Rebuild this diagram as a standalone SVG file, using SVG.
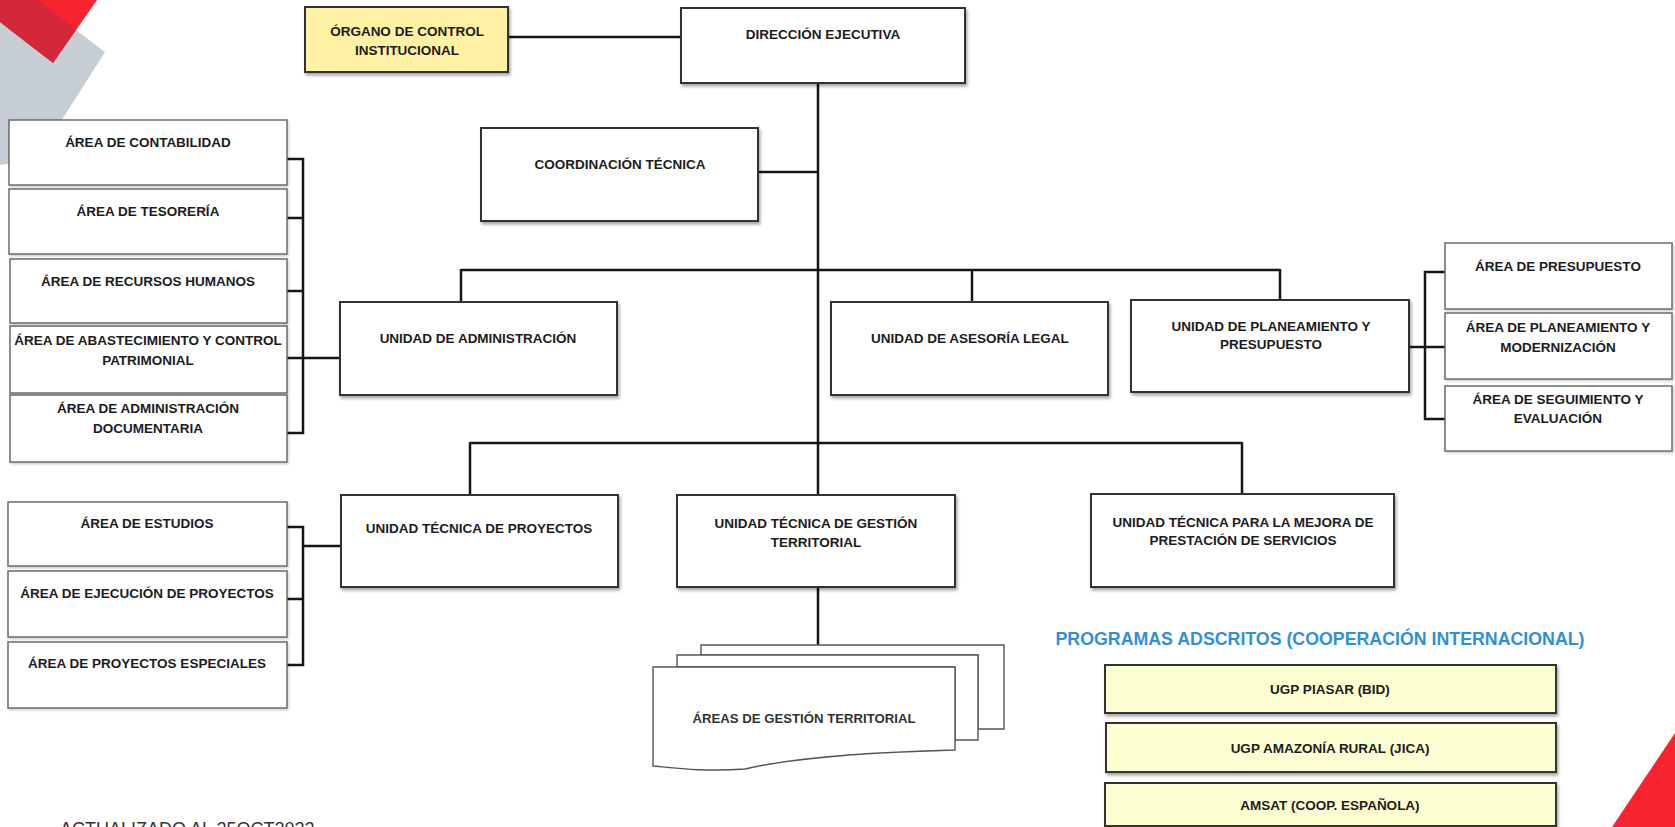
<svg xmlns="http://www.w3.org/2000/svg" width="1675" height="827" viewBox="0 0 1675 827">
<defs>
<filter id="sh" x="-5%" y="-10%" width="115%" height="130%">
<feDropShadow dx="1.5" dy="2.5" stdDeviation="1.5" flood-color="#000" flood-opacity="0.35"/>
</filter>
<filter id="sh2" x="-5%" y="-10%" width="115%" height="130%">
<feDropShadow dx="1" dy="1.5" stdDeviation="1" flood-color="#000" flood-opacity="0.2"/>
</filter>
<style>
.u{fill:#fff;stroke:#333;stroke-width:2;filter:url(#sh)}
.a{fill:#fff;stroke:#6b6b6b;stroke-width:1.5;filter:url(#sh2)}
.y{fill:#fef1a4;stroke:#333;stroke-width:2;filter:url(#sh)}
.p{fill:#fefed3;stroke:#333;stroke-width:2;filter:url(#sh)}
.d{fill:#fff;stroke:#555;stroke-width:1.4}
text{font-family:"Liberation Sans",Arial,sans-serif;font-size:13.5px;font-weight:bold;fill:#1c1c1c;text-anchor:middle}
.r{font-weight:normal;fill:#2a2a2a}
.c line,.c path{stroke:#151515;stroke-width:2.5;fill:none}
</style>
</defs>
<rect width="1675" height="827" fill="#fff"/>
<g id="decor">
<polygon points="0,0 36,0 105,52 63,118 35,160 0,165" fill="#c7cdd5"/>
<polygon points="0,0 97,0 53,63 0,22" fill="#f7232f"/>
<polygon points="0,0 38,0 76,30 53,63 0,22" fill="#d2283a"/>
<polygon points="1675,733 1675,827 1612,827" fill="#f7232f"/>
</g>
<g class="c" id="connectors">
<line x1="508" y1="37" x2="681" y2="37"/>
<line x1="818" y1="83" x2="818" y2="495"/>
<line x1="758" y1="172" x2="818" y2="172"/>
<line x1="461" y1="270" x2="1280" y2="270"/>
<line x1="461" y1="269" x2="461" y2="302"/>
<line x1="972" y1="269" x2="972" y2="302"/>
<line x1="1280" y1="269" x2="1280" y2="301"/>
<line x1="470" y1="443" x2="1242" y2="443"/>
<line x1="470" y1="442" x2="470" y2="495"/>
<line x1="1242" y1="442" x2="1242" y2="494"/>
<path d="M287,159 H303 V433 H287 M287,218 H303 M287,291 H303 M287,358 H340"/>
<path d="M1445,272 H1425 V419 H1445 M1409,347 H1445"/>
<path d="M287,527 H303 V665 H287 M287,599 H303 M303,546 H341"/>
<line x1="818" y1="587" x2="818" y2="645"/>
</g>
<g id="organo"><rect class="y" x="305" y="7" width="203" height="65"/><text x="407" y="36">ÓRGANO DE CONTROL</text><text x="407" y="55">INSTITUCIONAL</text></g>
<g id="direccion"><rect class="u" x="681" y="8" width="284" height="75"/><text x="823" y="39">DIRECCIÓN  EJECUTIVA</text></g>
<g id="coordinacion"><rect class="u" x="481" y="128" width="277" height="93"/><text x="620" y="169">COORDINACIÓN TÉCNICA</text></g>
<g id="u-admin"><rect class="u" x="340" y="302" width="277" height="93"/><text x="478" y="343">UNIDAD DE ADMINISTRACIÓN</text></g>
<g id="u-legal"><rect class="u" x="831" y="302" width="277" height="93"/><text x="970" y="343">UNIDAD DE ASESORÍA  LEGAL</text></g>
<g id="u-plan"><rect class="u" x="1131" y="300" width="278" height="92"/><text x="1271" y="331">UNIDAD DE PLANEAMIENTO Y</text><text x="1271" y="349">PRESUPUESTO</text></g>
<g id="a-contab"><rect class="a" x="9" y="120" width="278" height="65"/><text x="148" y="147">ÁREA DE CONTABILIDAD</text></g>
<g id="a-teso"><rect class="a" x="9" y="189" width="278" height="65"/><text x="148" y="216">ÁREA DE TESORERÍA</text></g>
<g id="a-rrhh"><rect class="a" x="10" y="259" width="277" height="64"/><text x="148" y="286">ÁREA DE RECURSOS HUMANOS</text></g>
<g id="a-abast"><rect class="a" x="10" y="326" width="277" height="67"/><text x="148" y="345">ÁREA DE ABASTECIMIENTO  Y CONTROL</text><text x="148" y="365">PATRIMONIAL</text></g>
<g id="a-doc"><rect class="a" x="10" y="395" width="277" height="67"/><text x="148" y="413">ÁREA DE ADMINISTRACIÓN</text><text x="148" y="433">DOCUMENTARIA</text></g>
<g id="a-presu"><rect class="a" x="1445" y="243" width="227" height="66"/><text x="1558" y="271">ÁREA DE PRESUPUESTO</text></g>
<g id="a-planmod"><rect class="a" x="1445" y="313" width="227" height="66"/><text x="1558" y="332">ÁREA DE PLANEAMIENTO Y</text><text x="1558" y="352">MODERNIZACIÓN</text></g>
<g id="a-seg"><rect class="a" x="1445" y="386" width="227" height="65"/><text x="1558" y="404">ÁREA DE SEGUIMIENTO  Y</text><text x="1558" y="423">EVALUACIÓN</text></g>
<g id="u-proy"><rect class="u" x="341" y="495" width="277" height="92"/><text x="479" y="533">UNIDAD TÉCNICA DE PROYECTOS</text></g>
<g id="u-gest"><rect class="u" x="677" y="495" width="278" height="92"/><text x="816" y="528">UNIDAD TÉCNICA DE GESTIÓN</text><text x="816" y="547">TERRITORIAL</text></g>
<g id="u-mejora"><rect class="u" x="1091" y="494" width="303" height="93"/><text x="1243" y="527">UNIDAD TÉCNICA PARA LA MEJORA  DE</text><text x="1243" y="545">PRESTACIÓN  DE SERVICIOS</text></g>
<g id="a-estudios"><rect class="a" x="8" y="502" width="279" height="64"/><text x="147" y="528">ÁREA DE ESTUDIOS</text></g>
<g id="a-ejec"><rect class="a" x="8" y="571" width="279" height="66"/><text x="147" y="598">ÁREA DE EJECUCIÓN  DE PROYECTOS</text></g>
<g id="a-esp"><rect class="a" x="8" y="642" width="279" height="66"/><text x="147" y="668">ÁREA DE PROYECTOS ESPECIALES</text></g>
<g id="areas-gestion">
<path class="d" d="M701,645 H1004 V729 H978 V655 H701 Z"/>
<path class="d" d="M677,655 H978 V740 H955 V667 H677 Z"/>
<path class="d" d="M653,667 H955 V750 C880,752 800,756 745,769 C705,772 675,768 653,766 Z"/>
<text x="804" y="723" textLength="223" lengthAdjust="spacingAndGlyphs" style="font-size:13px;fill:#333">ÁREAS DE GESTIÓN TERRITORIAL</text>
</g>
<g id="programas">
<text x="1320" y="645" textLength="529" lengthAdjust="spacingAndGlyphs" style="font-size:18px;fill:#2f8fdd">PROGRAMAS ADSCRITOS (COOPERACIÓN INTERNACIONAL)</text>
</g>
<g id="p-piasar"><rect class="p" x="1105" y="665" width="451" height="48"/><text x="1330" y="694">UGP PIASAR (BID)</text></g>
<g id="p-amazonia"><rect class="p" x="1106" y="723" width="450" height="49"/><text x="1330" y="753">UGP AMAZONÍA RURAL  (JICA)</text></g>
<g id="p-amsat"><rect class="p" x="1105" y="783" width="451" height="43"/><text x="1330" y="810">AMSAT (COOP. ESPAÑOLA)</text></g>
<text class="r" x="60" y="835" style="font-size:18px;text-anchor:start;fill:#333">ACTUALIZADO AL 25OCT2022</text>
</svg>
